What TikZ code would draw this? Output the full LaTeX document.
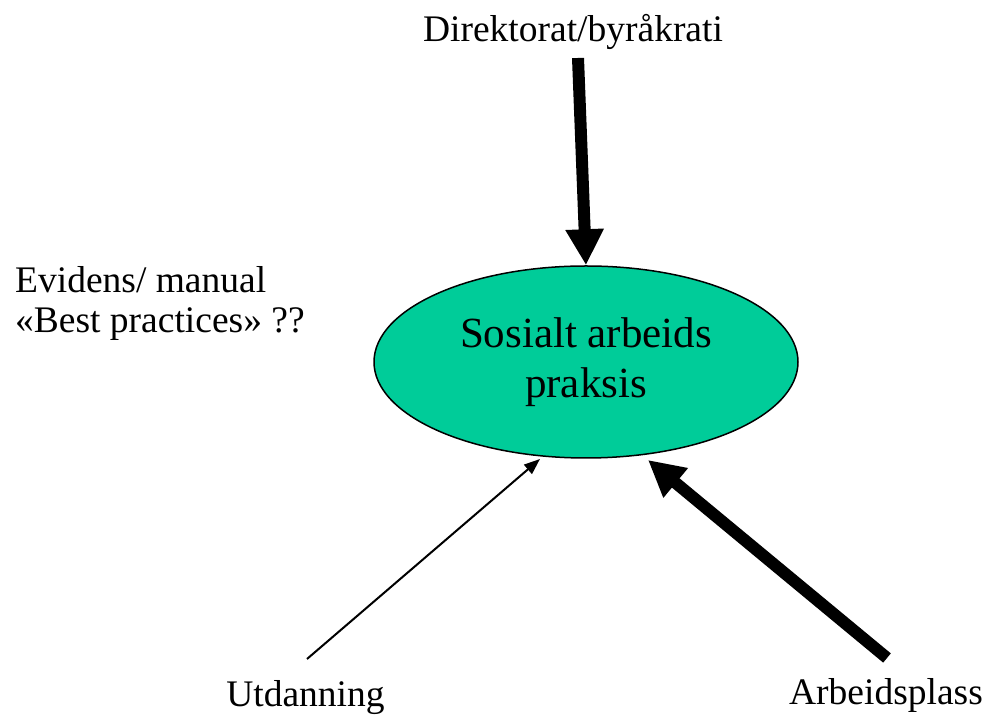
\documentclass[tikz,border=0pt]{standalone}
\usepackage{fontspec}
\setmainfont{Liberation Serif}
\usetikzlibrary{shapes.geometric,arrows.meta}
\definecolor{teal}{HTML}{00CC99}
\begin{document}
\begin{tikzpicture}[x=1pt,y=1pt,
  lbl/.style={inner sep=0pt, font=\fontsize{37.5}{40}\selectfont, align=left},
  thick arrow/.style={line width=12pt, -{Triangle[width=36pt,length=36pt]}},
  thin arrow/.style={line width=2pt, -{Triangle[width=12pt,length=16pt]}}]
\useasboundingbox (0,0) rectangle (986,717);
\node[ellipse, draw, line width=1.5pt, fill=teal, minimum width=424pt, minimum height=192pt, inner sep=0pt,
  font=\fontsize{43}{50}\selectfont, align=center] (e) at (586,355) {Sosialt arbeids\\praksis};
\node[lbl, anchor=base] (dir) at (573,675) {Direktorat/byråkrati};
\node[lbl, anchor=west] (ev) at (15,414) {Evidens/ manual\\«Best practices» ??};
\node[lbl, anchor=base] (utd) at (305.5,10) {Utdanning};
\node[lbl, anchor=base] (arb) at (886,12) {Arbeidsplass};
\coordinate (dtop) at (578,659);
\coordinate (utop) at (307,58);
\coordinate (atop) at (887,59);
\draw[thick arrow] (dtop) -- (e.north);
\draw[thin arrow] (utop) -- (540,258);
\draw[thick arrow] (atop) -- (648,257);
\end{tikzpicture}
\end{document}
